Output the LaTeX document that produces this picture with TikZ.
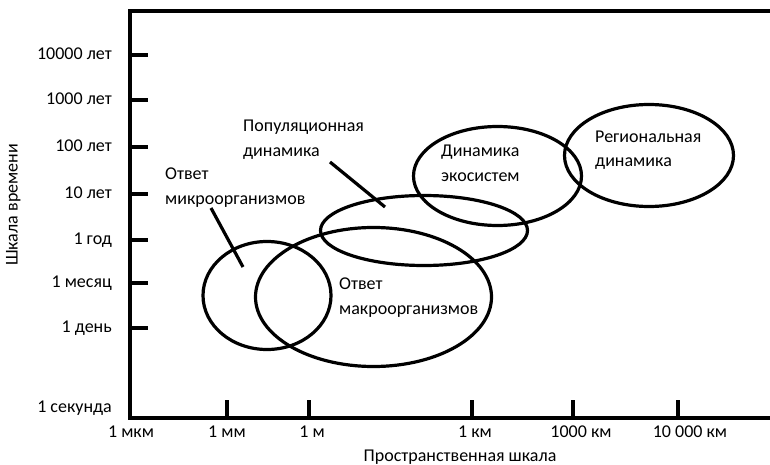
\documentclass[tikz,border=0pt]{standalone}
\usepackage{fontspec}
\setmainfont{Carlito}
\begin{document}
\begin{tikzpicture}[x=1pt,y=-1pt,
  font=\fontsize{18}{25}\selectfont,
  axisline/.style={line width=4.5pt},
  tickline/.style={line width=3.5pt},
  bubble/.style={line width=3.2pt},
  pointer/.style={line width=3.2pt},
  txt/.style={inner sep=0pt, text height=13pt, text depth=4pt},
  lbl/.style={txt, anchor=west}]
\useasboundingbox (0,0) rectangle (770,465);

% frame: top edge, time axis, space axis
\coordinate (tr) at (770,11);
\coordinate (tl) at (130,11);
\coordinate (bl) at (130,418);
\coordinate (br) at (770,418);
\draw[axisline] (tr) -- (tl) -- (bl) -- (br);

% time scale ticks and labels
\foreach \y/\t in {55/10000 лет, 100/1000 лет, 147/100 лет, 194/10 лет,
                   240/1 год, 283/1 месяц, 328/1 день} {
  \coordinate (ya\y) at (130,\y);
  \coordinate (yb\y) at (148,\y);
  \draw[tickline] (ya\y) -- (yb\y);
  \node[txt, anchor=east] (yl\y) at (112,\y) {\t};
}
\node[txt, anchor=east] (ysec) at (112,408) {1 секунда};

% spatial scale ticks
\foreach \x in {227,309,472,573,678} {
  \coordinate (xa\x) at (\x,418);
  \coordinate (xb\x) at (\x,400);
  \draw[tickline] (xa\x) -- (xb\x);
}
\foreach \x/\t in {131/1 мкм, 227/1 мм, 312/1 м, 475/1 км,
                   581/1000 км, 690/10 000 км} {
  \node[txt] (xl\x) at (\x,433) {\t};
}

% axis titles
\node[txt, rotate=90] (ytitle) at (13,205) {Шкала времени};
\node[txt] (xtitle) at (460,457) {Пространственная шкала};

% domains
\coordinate (cmicro) at (267,295.5);
\coordinate (cmacro) at (373.5,297);
\coordinate (cpop) at (424,230.5);
\coordinate (ceco) at (497.5,176);
\coordinate (creg) at (649,155.5);
\draw[bubble] (cmicro) ellipse [x radius=64, y radius=54];
\draw[bubble] (cmacro) ellipse [x radius=118, y radius=69.5];
\draw[bubble] (cpop) ellipse [x radius=103.5, y radius=35];
\draw[bubble] (ceco) ellipse [x radius=84, y radius=49.5];
\draw[bubble] (creg) ellipse [x radius=84.5, y radius=51];

% domain labels
\node[lbl] (micro1) at (165,175) {Ответ};
\node[lbl] (micro2) at (165,200) {микроорганизмов};
\node[lbl] (pop1) at (243,127) {Популяционная};
\node[lbl] (pop2) at (243,152) {динамика};
\node[lbl] (macro1) at (339,285) {Ответ};
\node[lbl] (macro2) at (339,310) {макроорганизмов};
\node[lbl] (eco1) at (441,152) {Динамика};
\node[lbl] (eco2) at (441,177) {экосистем};
\node[lbl] (reg1) at (595,138) {Региональная};
\node[lbl] (reg2) at (595,162) {динамика};

% leader lines
\coordinate (mpa) at (211,208);
\coordinate (mpb) at (243,267);
\coordinate (ppa) at (330,162);
\coordinate (ppb) at (385,207);
\draw[pointer] (mpa) -- (mpb);
\draw[pointer] (ppa) -- (ppb);
\end{tikzpicture}
\end{document}
